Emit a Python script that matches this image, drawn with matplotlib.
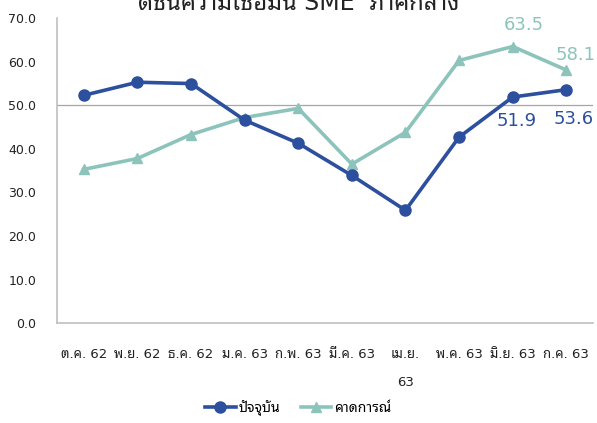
import matplotlib
matplotlib.use("Agg")
import matplotlib.pyplot as plt
import numpy as np

plt.rcParams['font.family'] = ['DejaVu Sans', 'Noto Sans Thai Looped']

# data
months = ['ต.ค. 62', 'พ.ย. 62', 'ธ.ค. 62', 'ม.ค. 63', 'ก.พ. 63', 'มี.ค. 63',
          'เม.ย.\n63', 'พ.ค. 63', 'มิ.ย. 63', 'ก.ค. 63']
current = [52.3, 55.3, 55.0, 46.6, 41.3, 33.9, 25.9, 42.7, 51.9, 53.6]
expected = [35.3, 37.8, 43.3, 47.2, 49.3, 36.5, 43.8, 60.3, 63.5, 58.1]

blue = '#2C4F9E'
teal = '#8CC4BC'

fig = plt.figure(figsize=(5.97, 4.23), dpi=100)
ax = fig.add_axes([0.0955, 0.236, 0.898, 0.721])

x = np.arange(len(months))
ax.plot(x, current, color=blue, lw=2.6, marker='o', ms=8, label='ปัจจุบัน', zorder=3)
ax.plot(x, expected, color=teal, lw=2.6, marker='^', ms=7.5, label='คาดการณ์', zorder=2)

ax.set_xlim(-0.5, len(months) - 0.5)
ax.set_ylim(0, 70)
ax.set_yticks(np.arange(0, 71, 10))
ax.set_yticklabels(['%.1f' % v for v in np.arange(0, 71, 10)], fontsize=9, color='#222222')
ax.set_xticks(x)
ax.set_xticklabels(months, fontsize=9.5, color='#222222')
for t in ax.get_xticklabels():
    t.set_linespacing(2.5)
ax.tick_params(axis='y', length=0, pad=15)
ax.tick_params(axis='x', length=0, pad=18)

ax.axhline(50, color='#A6A6A6', lw=0.9, zorder=1)
for s in ['top', 'right']:
    ax.spines[s].set_visible(False)
for s in ['left', 'bottom']:
    ax.spines[s].set_color('#BFBFBF')
    ax.spines[s].set_linewidth(1.2)

# data labels on the last points
ax.annotate('%.1f' % current[8], (x[8], current[8]), xytext=(3, -11), textcoords='offset points',
            ha='center', va='top', fontsize=13, color=blue)
ax.annotate('%.1f' % current[9], (x[9], current[9]), xytext=(5, -15), textcoords='offset points',
            ha='center', va='top', fontsize=13, color=blue, annotation_clip=False)
ax.annotate('%.1f' % expected[8], (x[8], expected[8]), xytext=(8, 9), textcoords='offset points',
            ha='center', va='bottom', fontsize=13, color=teal)
ax.annotate('%.1f' % expected[9], (x[9], expected[9]), xytext=(7, 4), textcoords='offset points',
            ha='center', va='bottom', fontsize=13, color=teal, annotation_clip=False)

fig.text(0.5, 1 - 10 / 423, 'ดัชนีความเชื่อมั่น SME  ภาคกลาง', ha='center', va='baseline',
         fontsize=17, color='#222222')

ax.legend(loc='lower center', bbox_to_anchor=(0.45, -0.345), ncol=2, frameon=False,
          fontsize=10, handlelength=2.2, handletextpad=0.2, columnspacing=1.5)

fig.savefig('out.png', dpi=100)
